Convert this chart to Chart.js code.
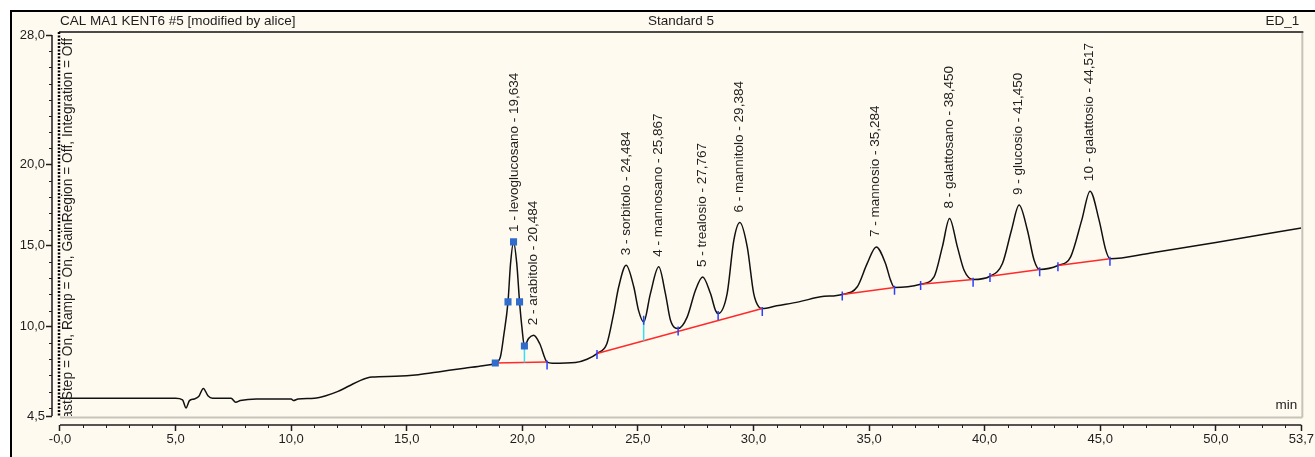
<!DOCTYPE html>
<html>
<head>
    <title>CAL MA1 KENT6 #5 - Standard 5</title>
    <script src="https://cdn.jsdelivr.net/npm/chart.js"></script>
    <style>
        html, body { margin: 0; padding: 0; background: #fff; }
    </style>
</head>
<body>
    <canvas id="chromChart" width="1315" height="457"></canvas>
    <script>
        // header texts
        var headerLeft = 'CAL MA1 KENT6 #5 [modified by alice]';
        var headerMid = 'Standard 5';
        var headerRight = 'ED_1';
        var sideNote = 'astStep = On, Ramp = On, GainRegion = Off, Integration = Off';

        // axis ticks
        var xTickVals = [0, 5, 10, 15, 20, 25, 30, 35, 40, 45, 50, 53.7];
        var xTickLabels = ['-0,0', '5,0', '10,0', '15,0', '20,0', '25,0', '30,0', '35,0', '40,0', '45,0', '50,0', '53,7'];
        var yTickVals = [28, 20, 15, 10, 4.5];
        var yTickLabels = ['28,0', '20,0', '15,0', '10,0', '4,5'];

        // detector trace [min, signal]
        var trace = [
            [0, 5.6], [5.0, 5.6], [5.3, 5.5], [5.45, 5.0], [5.6, 5.45], [5.8, 5.55], [6.0, 5.7], [6.2, 6.2],
            [6.4, 5.75], [6.6, 5.6], [7.4, 5.6], [7.6, 5.35], [7.8, 5.45], [8.5, 5.55], [10.0, 5.55], [10.1, 5.45],
            [10.3, 5.55], [11.0, 5.6], [11.5, 5.75], [12.0, 6.0], [12.5, 6.35], [13.0, 6.7], [13.5, 6.9], [14.5, 6.95],
            [15.5, 7.05], [16.5, 7.25], [17.5, 7.45], [18.3, 7.6], [18.83, 7.77], [19.05, 8.14], [19.2, 9.5],
            [19.38, 11.54], [19.49, 13.9], [19.62, 15.24], [19.76, 13.9], [19.88, 11.54], [19.98, 10.0], [20.09, 8.82],
            [20.27, 9.28], [20.49, 9.48], [20.75, 8.97], [21.07, 7.83], [21.3, 7.75], [22.3, 7.8], [22.8, 8.0],
            [23.23, 8.35], [23.66, 8.97], [23.95, 10.82], [24.17, 12.47], [24.49, 13.8], [24.82, 12.47], [25.03, 11.0],
            [25.25, 10.3], [25.54, 12.05], [25.9, 13.7], [26.19, 12.05], [26.41, 10.4], [26.74, 9.9], [27.13, 10.6],
            [27.49, 12.26], [27.8, 13.08], [28.14, 12.05], [28.36, 11.0], [28.47, 10.82], [28.86, 12.05], [29.15, 15.35],
            [29.41, 16.44], [29.73, 14.93], [30.01, 12.05], [30.23, 11.23], [30.38, 11.13], [31.0, 11.3], [31.96, 11.54],
            [32.9, 11.85], [33.84, 12.0], [34.49, 12.47], [34.92, 13.91], [35.31, 14.93], [35.71, 13.91], [35.93, 12.88],
            [36.1, 12.43], [37.23, 12.63], [37.81, 13.08], [38.17, 14.93], [38.48, 16.68], [38.82, 14.93], [39.11, 13.49],
            [39.5, 12.92], [40.23, 13.12], [40.77, 13.91], [41.16, 15.96], [41.49, 17.51], [41.85, 15.96], [42.14, 14.11],
            [42.38, 13.54], [43.17, 13.78], [43.72, 14.32], [44.2, 16.58], [44.56, 18.37], [44.95, 16.58], [45.24, 14.73],
            [45.42, 14.2], [47.19, 14.56], [50.0, 15.2], [53.7, 16.1]
        ];

        // integration baselines (null = gap)
        var baseline = [
            [18.83, 7.77], [21.07, 7.83], [21.5, null],
            [23.23, 8.35], [30.38, 11.13], [31, null],
            [33.84, 12.0], [36.1, 12.43], [36.5, null],
            [37.23, 12.63], [39.5, 12.92], [39.8, null],
            [40.23, 13.12], [42.38, 13.54], [42.8, null],
            [43.17, 13.78], [45.42, 14.2]
        ];
        // perpendicular drops
        var drops = [[20.09, 8.82], [20.09, 7.8], [20.2, null], [25.25, 10.6], [25.25, 9.14]];
        // peak delimiters
        var delimiters = [
            [21.07, 7.65], [23.23, 8.3], [25.25, 10.4], [26.74, 9.75], [28.47, 10.7], [30.38, 10.95],
            [33.84, 11.9], [36.1, 12.25], [37.23, 12.55], [39.5, 12.75], [40.23, 13.05], [42.38, 13.4],
            [43.17, 13.7], [45.42, 14.05]
        ];
        // manual integration markers on peak 1
        var markers = [[18.83, 7.77], [19.38, 11.54], [19.62, 15.24], [19.88, 11.54], [20.09, 8.82]];

        // peak table
        var peakNames = ['levoglucosano', 'arabitolo', 'sorbitolo', 'mannosano', 'trealosio',
                         'mannitolo', 'mannosio', 'galattosano', 'glucosio', 'galattosio'];
        var peakTimes = [19.634, 20.484, 24.484, 25.867, 27.767, 29.384, 35.284, 38.450, 41.450, 44.517];
        var peakHeights = [15.24, 9.48, 13.8, 13.7, 13.08, 16.44, 14.93, 16.68, 17.51, 18.37];

        var FAMILY = '"Liberation Sans", Arial, sans-serif';
        var FONT = '13.5px ' + FAMILY;
        var INK = '#1e1e1e';

        function toXY(arr) {
            return arr.map(function (p) { return { x: p[0], y: p[1] }; });
        }
        function comma(v) { return v.toFixed(3).replace('.', ','); }

        var chromPlugin = {
            id: 'chrom',
            beforeDraw: function (chart) {
                var c = chart.ctx, W = chart.width, H = chart.height;
                c.save();
                c.fillStyle = '#ffffff';
                c.fillRect(0, 0, W, H);
                c.fillStyle = '#fffaf0';
                c.fillRect(11, 11, W - 11, H - 11);
                c.restore();
            },
            afterDatasetsDraw: function (chart) {
                var c = chart.ctx, xs = chart.scales.x, ys = chart.scales.y, a = chart.chartArea;
                var x0 = xs.getPixelForValue(0), x1 = xs.getPixelForValue(53.7);
                var yTop = ys.getPixelForValue(28), yBot = ys.getPixelForValue(4.5);
                c.save();

                // peak labels
                c.font = FONT;
                c.fillStyle = INK;
                c.textBaseline = 'middle';
                c.textAlign = 'left';
                for (var i = 0; i < peakNames.length; i++) {
                    var px = xs.getPixelForValue(peakTimes[i]);
                    var py = ys.getPixelForValue(peakHeights[i]) - 10;
                    c.save();
                    c.translate(px, py);
                    c.rotate(-Math.PI / 2);
                    c.fillText((i + 1) + ' - ' + peakNames[i] + ' - ' + comma(peakTimes[i]), 0, 0);
                    c.restore();
                }

                // side note, clipped to the plot frame
                c.save();
                c.beginPath();
                c.rect(x0, a.top - 3, x1 - x0, yBot - a.top + 3);
                c.clip();
                c.font = '13.8px ' + FAMILY;
                c.translate(x0 + 8, a.top + 3);
                c.rotate(-Math.PI / 2);
                c.textAlign = 'right';
                c.fillText(sideNote, 0, 0);
                c.restore();

                // plot frame
                c.lineWidth = 2;
                c.strokeStyle = '#c6c3b8';
                c.beginPath();
                c.moveTo(x0, yBot + 1.5); c.lineTo(x1 + 1, yBot + 1.5);
                c.moveTo(x1 + 1, a.top - 3); c.lineTo(x1 + 1, yBot + 1.5);
                c.stroke();
                c.strokeStyle = '#4a4a4a';
                c.beginPath();
                c.moveTo(x0 - 1, a.top - 3); c.lineTo(x1 + 2, a.top - 3);
                c.stroke();
                c.strokeStyle = '#000';
                c.lineWidth = 2.5;
                c.setLineDash([2, 1.5]);
                c.beginPath();
                c.moveTo(x0 - 1, a.top - 3); c.lineTo(x0 - 1, yBot + 1);
                c.stroke();
                c.setLineDash([]);

                // axis lines
                c.lineWidth = 1.5;
                c.strokeStyle = INK;
                c.beginPath();
                c.moveTo(a.left, yTop); c.lineTo(a.left, yBot);
                c.moveTo(x0, a.bottom); c.lineTo(x1, a.bottom);
                c.stroke();
                // minor ticks
                c.lineWidth = 1;
                c.beginPath();
                for (var t = 1; t < 54; t++) {
                    if (t % 5 === 0) continue;
                    var tx = Math.round(xs.getPixelForValue(t)) + 0.5;
                    c.moveTo(tx, a.bottom); c.lineTo(tx, a.bottom + 3);
                }
                for (var v = 5; v < 28; v++) {
                    if (v === 10 || v === 15 || v === 20) continue;
                    var ty = Math.round(ys.getPixelForValue(v)) + 0.5;
                    c.moveTo(a.left - 3, ty); c.lineTo(a.left, ty);
                }
                c.stroke();

                // header
                c.font = FONT;
                c.fillStyle = INK;
                c.textBaseline = 'middle';
                c.textAlign = 'left';
                c.fillText(headerLeft, x0, 21);
                c.textAlign = 'center';
                c.fillText(headerMid, 681, 21);
                c.textAlign = 'right';
                c.fillText(headerRight, x1 - 2, 21);
                c.fillText('min', x1 - 4, yBot - 11);

                // outer border
                c.strokeStyle = '#000';
                c.lineWidth = 2;
                c.beginPath();
                c.moveTo(11, chart.height); c.lineTo(11, 11); c.lineTo(chart.width, 11);
                c.stroke();
                c.restore();
            }
        };

        var ctx = document.getElementById('chromChart').getContext('2d');
        var chromChart = new Chart(ctx, {
            type: 'line',
            data: {
                datasets: [{
                    label: 'markers',
                    data: toXY(markers),
                    showLine: false,
                    pointStyle: 'rect',
                    pointRadius: 5,
                    pointBackgroundColor: '#2f6ccc',
                    pointBorderColor: '#2f6ccc',
                    pointBorderWidth: 0
                }, {
                    label: 'delimiters',
                    data: toXY(delimiters),
                    showLine: false,
                    pointStyle: 'line',
                    pointRotation: 90,
                    pointRadius: 4.5,
                    pointBorderColor: '#2a40ff',
                    pointBorderWidth: 1.5
                }, {
                    label: 'drops',
                    data: toXY(drops),
                    borderColor: '#33e0f0',
                    borderWidth: 1.5,
                    pointRadius: 0,
                    spanGaps: false
                }, {
                    label: 'baseline',
                    data: toXY(baseline),
                    borderColor: '#ff2a2a',
                    borderWidth: 1.5,
                    pointRadius: 0,
                    spanGaps: false
                }, {
                    label: 'ED_1',
                    data: toXY(trace),
                    borderColor: '#111111',
                    borderWidth: 1.5,
                    pointRadius: 0,
                    cubicInterpolationMode: 'monotone'
                }]
            },
            options: {
                responsive: false,
                animation: false,
                events: [],
                layout: { padding: { top: 35, right: 13, left: 0, bottom: 0 } },
                plugins: { legend: { display: false }, tooltip: { enabled: false } },
                scales: {
                    x: {
                        type: 'linear',
                        min: -0.346,
                        max: 53.7,
                        afterFit: function (s) { s.height = 32; },
                        afterBuildTicks: function (s) { s.ticks = xTickVals.map(function (v) { return { value: v }; }); },
                        ticks: {
                            autoSkip: false, maxRotation: 0, padding: 1, color: INK,
                            font: { size: 13, family: FAMILY },
                            callback: function (v, i) { return xTickLabels[i]; }
                        },
                        grid: { drawOnChartArea: false, drawTicks: true, tickLength: 6, tickColor: INK, tickWidth: 1.5 },
                        border: { display: false }
                    },
                    y: {
                        min: 3.945,
                        max: 28,
                        afterFit: function (s) { s.width = 52; },
                        afterBuildTicks: function (s) { s.ticks = yTickVals.map(function (v) { return { value: v }; }); },
                        ticks: {
                            autoSkip: false, padding: 1, color: INK,
                            font: { size: 13, family: FAMILY },
                            callback: function (v, i) { return yTickLabels[i]; }
                        },
                        grid: { drawOnChartArea: false, drawTicks: true, tickLength: 6, tickColor: INK, tickWidth: 1.5 },
                        border: { display: false }
                    }
                }
            },
            plugins: [chromPlugin]
        });
    </script>
</body>
</html>
